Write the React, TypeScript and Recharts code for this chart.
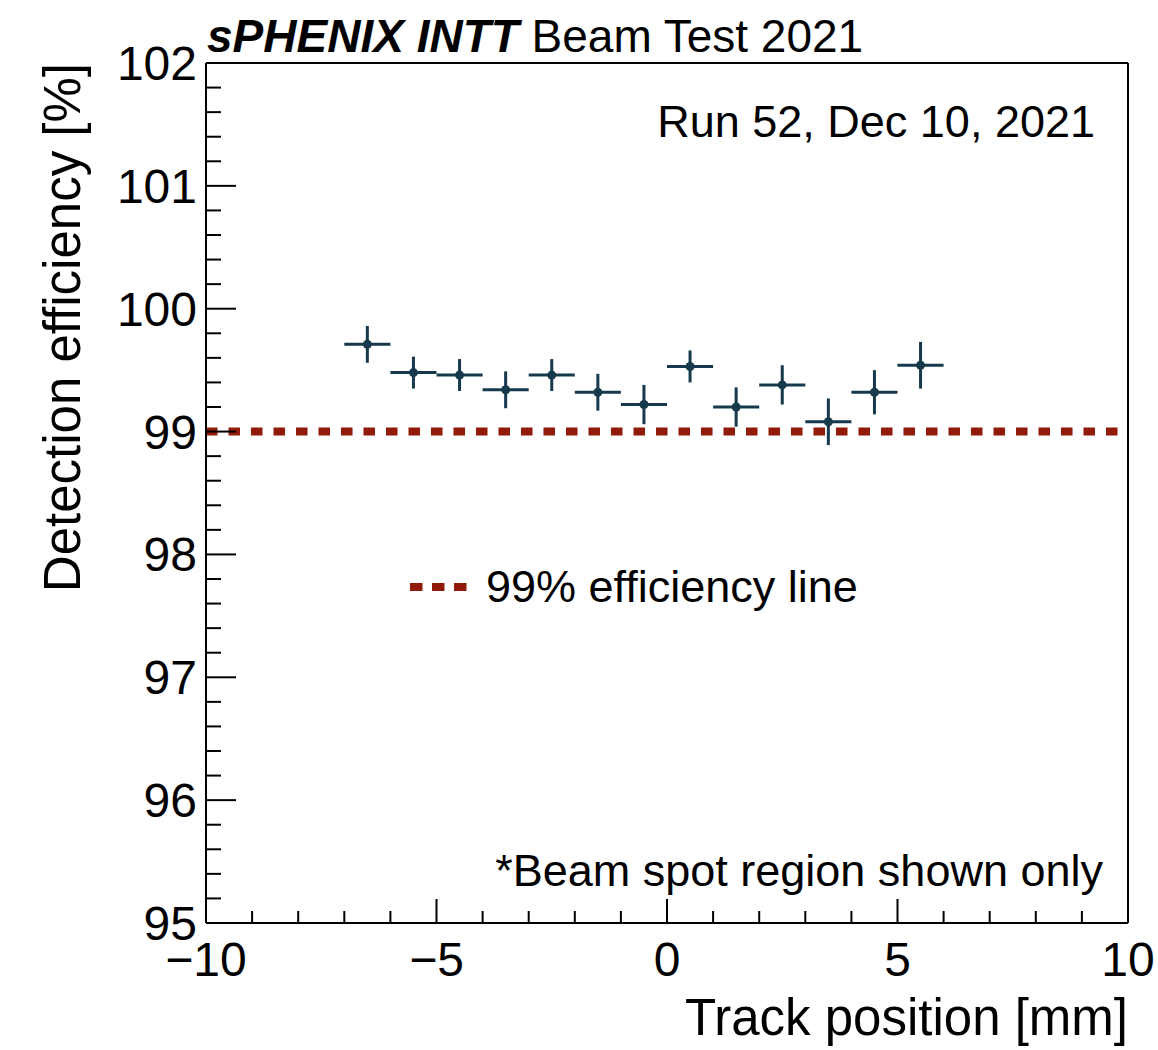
import React from 'react'
import { ScatterChart, Scatter, XAxis, YAxis, ErrorBar, ReferenceLine, Legend } from 'recharts'

// bin centres [mm], efficiency [%] and its statistical error
const xCenters = [-6.5, -5.5, -4.5, -3.5, -2.5, -1.5, -0.5, 0.5, 1.5, 2.5, 3.5, 4.5, 5.5]
const efficiency = [99.71, 99.48, 99.46, 99.34, 99.46, 99.32, 99.22, 99.53, 99.2, 99.38, 99.08, 99.32, 99.54]
const effError = [0.15, 0.13, 0.13, 0.15, 0.13, 0.15, 0.16, 0.13, 0.16, 0.16, 0.19, 0.18, 0.19]
const binHalfWidth = 0.5

const xMajorTicks = [-10, -5, 0, 5, 10]
const xAllTicks = [-10, -9, -8, -7, -6, -5, -4, -3, -2, -1, 0, 1, 2, 3, 4, 5, 6, 7, 8, 9, 10]
const yMajorTicks = [95, 96, 97, 98, 99, 100, 101, 102]
const yMinorDivisions = 5
const thresholdValue = 99

const FONT = '"Liberation Sans", Arial, Helvetica, sans-serif'
const POINT_COLOR = '#163a4c'
const LINE_COLOR = '#921a08'

const yAllTicks: number[] = []
yMajorTicks.forEach((t, i) => {
  if (i === yMajorTicks.length - 1) {
    yAllTicks.push(t)
    return
  }
  const step = (yMajorTicks[i + 1] - t) / yMinorDivisions
  for (let k = 0; k < yMinorDivisions; k++) yAllTicks.push(+(t + k * step).toFixed(4))
})

const data = xCenters.map((x, i) => ({
  x,
  y: efficiency[i],
  ex: binHalfWidth,
  ey: effError[i],
}))

const fmt = (v: number) => (v < 0 ? `\u2212${Math.abs(v)}` : `${v}`)
const isYMajor = (v: number) => yMajorTicks.some((m) => Math.abs(m - v) < 1e-6)

const XTick = ({ x, y, payload, side }: any) => {
  const major = xMajorTicks.includes(payload.value)
  const len = major ? 24 : 12
  const dir = side === 'bottom' ? -1 : 1
  return (
    <g>
      <line x1={x} x2={x} y1={y} y2={y + dir * len} stroke="#000" strokeWidth={2} />
      {side === 'bottom' && major && (
        <text x={x} y={y + 53} textAnchor="middle" fontSize={48} fontFamily={FONT} fill="#000">
          {fmt(payload.value)}
        </text>
      )}
    </g>
  )
}

const YTick = ({ x, y, payload, side }: any) => {
  const major = isYMajor(payload.value)
  const len = major ? 30 : 15
  const dir = side === 'left' ? 1 : -1
  return (
    <g>
      <line x1={x} x2={x + dir * len} y1={y} y2={y} stroke="#000" strokeWidth={2} />
      {side === 'left' && major && (
        <text x={x - 9} y={y + 17} textAnchor="end" fontSize={48} fontFamily={FONT} fill="#000">
          {fmt(Math.round(payload.value))}
        </text>
      )}
    </g>
  )
}

const LegendBox = () => (
  <div style={{ display: 'flex', alignItems: 'center', fontFamily: FONT, fontSize: 45, color: '#000', lineHeight: '56px' }}>
    <svg width={66} height={20} style={{ marginRight: 12 }}>
      <line x1={2} x2={62} y1={10} y2={10} stroke={LINE_COLOR} strokeWidth={8} strokeDasharray="12.5 9.5" />
    </svg>
    <span style={{ whiteSpace: 'nowrap' }}>99% efficiency line</span>
  </div>
)

export default function App() {
  return (
    <div style={{ position: 'absolute', left: 0, top: 0, width: 1158, height: 1050, background: '#fff' }}>
      <ScatterChart width={1158} height={1050} margin={{ top: 0, right: 0, bottom: 0, left: 0 }}>
        <XAxis
          xAxisId="bottom"
          dataKey="x"
          type="number"
          domain={[-10, 10]}
          ticks={xAllTicks}
          interval={0}
          height={127}
          tickSize={0}
          tickMargin={0}
          tickLine={false}
          axisLine={{ stroke: '#000', strokeWidth: 2 }}
          tick={(p: any) => <XTick {...p} side="bottom" />}
          label={({ viewBox }: any) => (
            <text
              x={viewBox.x + viewBox.width}
              y={viewBox.y + 112}
              textAnchor="end"
              fontSize={51}
              fontFamily={FONT}
              fill="#000"
            >
              Track position [mm]
            </text>
          )}
        />
        <XAxis
          xAxisId="top"
          orientation="top"
          type="number"
          domain={[-10, 10]}
          ticks={xAllTicks}
          interval={0}
          height={63}
          tickSize={0}
          tickMargin={0}
          tickLine={false}
          axisLine={{ stroke: '#000', strokeWidth: 2 }}
          tick={(p: any) => <XTick {...p} side="top" />}
        />
        <YAxis
          yAxisId="left"
          dataKey="y"
          type="number"
          domain={[95, 102]}
          ticks={yAllTicks}
          interval={0}
          width={206}
          tickSize={0}
          tickMargin={0}
          tickLine={false}
          axisLine={{ stroke: '#000', strokeWidth: 2 }}
          tick={(p: any) => <YTick {...p} side="left" />}
          label={({ viewBox }: any) => (
            <text
              x={80}
              y={viewBox.y}
              transform={`rotate(-90 80 ${viewBox.y})`}
              textAnchor="end"
              fontSize={51}
              fontFamily={FONT}
              fill="#000"
            >
              Detection efficiency [%]
            </text>
          )}
        />
        <YAxis
          yAxisId="right"
          orientation="right"
          type="number"
          domain={[95, 102]}
          ticks={yAllTicks}
          interval={0}
          width={30}
          tickSize={0}
          tickMargin={0}
          tickLine={false}
          axisLine={{ stroke: '#000', strokeWidth: 2 }}
          tick={(p: any) => <YTick {...p} side="right" />}
        />
        <ReferenceLine
          xAxisId="bottom"
          yAxisId="left"
          y={thresholdValue}
          stroke={LINE_COLOR}
          strokeWidth={8}
          strokeDasharray="11.5 11"
        />
        <Scatter
          xAxisId="bottom"
          yAxisId="left"
          data={data}
          isAnimationActive={false}
          shape={(p: any) => <circle cx={p.cx} cy={p.cy} r={4.5} fill={POINT_COLOR} />}
        >
          <ErrorBar dataKey="ex" direction="x" width={0} stroke={POINT_COLOR} strokeWidth={3} />
          <ErrorBar dataKey="ey" direction="y" width={0} stroke={POINT_COLOR} strokeWidth={3} />
        </Scatter>
        <Legend
          layout="horizontal"
          verticalAlign="middle"
          align="center"
          wrapperStyle={{ position: 'absolute', left: 408, top: 559, width: 540, height: 56 }}
          content={() => <LegendBox />}
        />
      </ScatterChart>
      <svg
        width={1158}
        height={1050}
        style={{ position: 'absolute', left: 0, top: 0, pointerEvents: 'none' }}
        fontFamily={FONT}
      >
        <text x={207} y={52} fontSize={46} fill="#000">
          <tspan fontWeight="bold" fontStyle="italic">sPHENIX INTT</tspan>
          <tspan> Beam Test 2021</tspan>
        </text>
        <text x={1095} y={137} fontSize={45} textAnchor="end" fill="#000">
          Run 52, Dec 10, 2021
        </text>
        <text x={1103} y={886} fontSize={45} textAnchor="end" fill="#000">
          *Beam spot region shown only
        </text>
      </svg>
    </div>
  )
}
